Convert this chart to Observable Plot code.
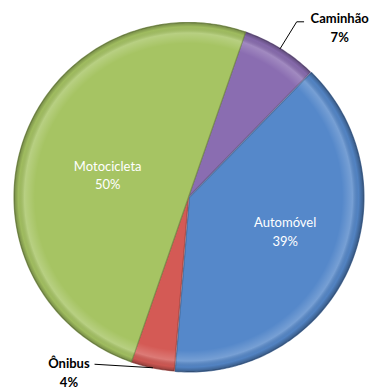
<!DOCTYPE html>
<html><head><meta charset="utf-8">
<script src="https://cdn.jsdelivr.net/npm/d3@7"></script>
<script src="https://cdn.jsdelivr.net/npm/@observablehq/plot@0.6"></script>
<style>html,body{margin:0;padding:0;background:#fff} svg{display:block}</style>
</head><body><div id="chart"></div>
<script>
// ---- data ----
const categories = ["Caminhão", "Automóvel", "Ônibus", "Motocicleta"];
const shares = [7, 39, 4, 50];
const percentLabels = ["7%", "39%", "4%", "50%"];
const colors = ["#8A6DB1", "#5588CA", "#D45A55", "#A6C463"];
const startAngle = 19.1; // degrees, clockwise from 12 o'clock

// ---- layout ----
const W = 376, H = 392, cx = 188, cy = 196.5, R = 174.5;
const total = d3.sum(shares);
let acc = startAngle;
const slices = categories.map((name, i) => {
  const a0 = acc, a1 = acc + shares[i] / total * 360; acc = a1;
  return {name, share: shares[i], pct: percentLabels[i], color: colors[i], a0, a1, mid: (a0 + a1) / 2};
});
const rad = d => d * Math.PI / 180;
const polar = (ang, r) => ({x: r * Math.sin(rad(ang)), y: r * Math.cos(rad(ang))});
const explode = {"Automóvel": 0.006};
function slicePoints(s) {
  const o = polar(s.mid, explode[s.name] || 0);
  const pts = [{x: o.x, y: o.y}];
  const n = Math.max(8, Math.ceil(s.a1 - s.a0));
  for (let k = 0; k <= n; k++) {
    const p = polar(s.a0 + (s.a1 - s.a0) * k / n, 1);
    pts.push({x: p.x + o.x, y: p.y + o.y});
  }
  pts.push({x: o.x, y: o.y});
  return pts;
}
const font = "Lato, 'Liberation Sans', sans-serif";
const byName = Object.fromEntries(slices.map(s => [s.name, s]));

const marks = [];
for (const s of slices) {
  const pts = slicePoints(s);
  marks.push(Plot.line(pts, {x: "x", y: "y", curve: "linear", fill: s.color,
    stroke: d3.color(s.color).darker(0.9).formatHex(), strokeWidth: 1.2, strokeOpacity: 0.8}));
  marks.push(Plot.line(pts, {x: "x", y: "y", curve: "linear", fill: "url(#bevel)", stroke: "none"}));
}

// inside labels
const inside = [
  {s: byName["Motocicleta"], f: 0.49, dx: 0, dy: 5},
  {s: byName["Automóvel"], f: 0.59, dx: 3, dy: -9}
].map(d => ({...polar(d.s.mid, d.f), text: d.s.name + "\n" + d.s.pct, dx: d.dx, dy: d.dy}));
for (const d of inside) {
  marks.push(Plot.text([d], {x: "x", y: "y", text: "text", fill: "white", fontSize: 13,
    fontFamily: font, lineHeight: 1.45, dx: d.dx, dy: d.dy}));
}

// outside labels with leader lines
const cam = byName["Caminhão"];
const camRim = polar(cam.mid, 1), camElbow = polar(cam.mid, 1.18);
const camEnd = {x: camElbow.x + 0.04, y: camElbow.y};
marks.push(Plot.line([camRim, camElbow, camEnd], {x: "x", y: "y", stroke: "#000", strokeWidth: 1}));
marks.push(Plot.text([camEnd], {x: "x", y: "y", text: () => cam.name + "\n" + cam.pct, textAnchor: "middle",
  dx: 36, dy: 4.5, fontWeight: "bold", fontSize: 13, fontFamily: font, lineHeight: 1.45, fill: "#000"}));

const oni = byName["Ônibus"];
const oniRim = polar(oni.mid, 1);
const oniEnd = {x: oniRim.x - 0.33, y: oniRim.y + 0.02};
marks.push(Plot.line([oniRim, oniEnd], {x: "x", y: "y", stroke: "#000", strokeWidth: 1}));
marks.push(Plot.text([oniEnd], {x: "x", y: "y", text: () => oni.name + "\n" + oni.pct, textAnchor: "middle",
  dx: -26, dy: 7.5, fontWeight: "bold", fontSize: 13, fontFamily: font, lineHeight: 1.45, fill: "#000"}));

const svg = Plot.plot({
  width: W, height: H, margin: 0,
  x: {domain: [-1, 1], range: [cx - R, cx + R], axis: null},
  y: {domain: [-1, 1], range: [cy + R, cy - R], axis: null},
  style: {fontFamily: font, background: "white", overflow: "visible"},
  marks
});
const px = svg.scale("x").apply(0), py = svg.scale("y").apply(0);
const pr = svg.scale("x").apply(1) - px;
svg.insertAdjacentHTML("afterbegin",
  `<defs><radialGradient id="bevel" gradientUnits="userSpaceOnUse" cx="${px}" cy="${py}" r="${pr}">
    <stop offset="0" stop-color="#fff" stop-opacity="0"/>
    <stop offset="0.88" stop-color="#fff" stop-opacity="0"/>
    <stop offset="0.94" stop-color="#fff" stop-opacity="0.2"/>
    <stop offset="0.975" stop-color="#000" stop-opacity="0.04"/>
    <stop offset="1" stop-color="#000" stop-opacity="0.3"/>
  </radialGradient></defs>`);
document.getElementById("chart").appendChild(svg);
</script>
</body></html>
